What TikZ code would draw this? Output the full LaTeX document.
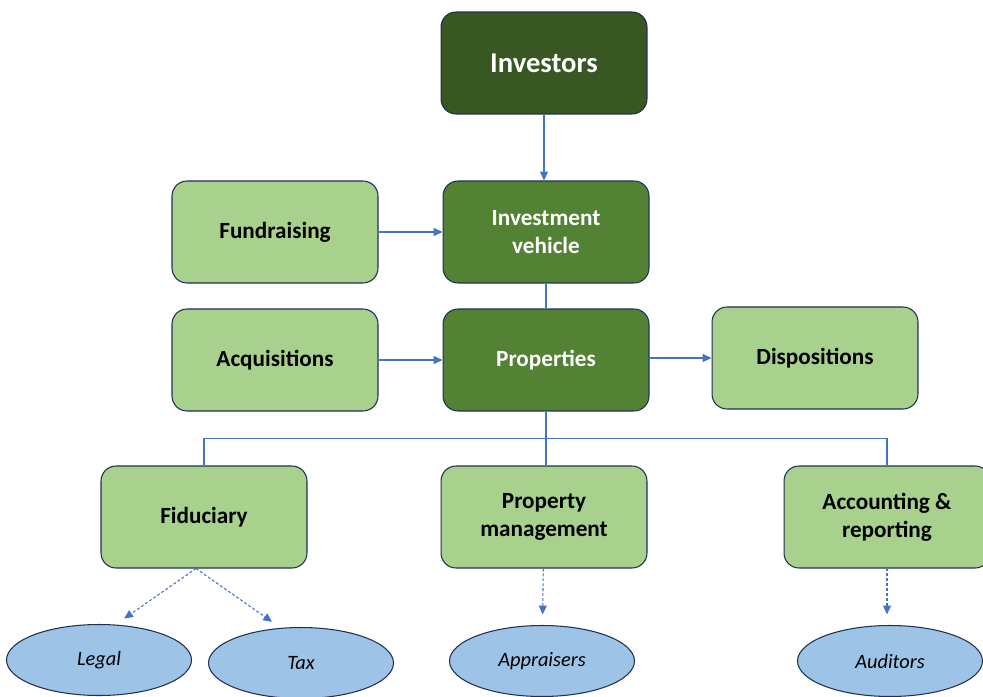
\documentclass[tikz,border=0pt]{standalone}
\usepackage{fontspec}
\setmainfont{Carlito}
\usetikzlibrary{arrows.meta,shapes.geometric}

\definecolor{topgreen}{HTML}{385723}
\definecolor{midgreen}{HTML}{548235}
\definecolor{lightgreen}{HTML}{A9D18E}
\definecolor{lightblue}{HTML}{9DC3E6}
\definecolor{boxline}{HTML}{1F3050}
\definecolor{linkblue}{HTML}{4472C4}

\begin{document}
\begin{tikzpicture}[x=0.02cm,y=-0.02cm,
		box/.style={draw=boxline,line width=0.6pt,rounded corners=0.3cm,
			minimum width=4.12cm,minimum height=2.04cm,align=center,
			font=\bfseries\fontsize{13.2}{15.9}\selectfont},
		light/.style={box,fill=lightgreen},
		dark/.style={box,fill=midgreen,text=white},
		party/.style={ellipse,draw=boxline,line width=0.6pt,fill=lightblue,
			minimum width=3.7cm,minimum height=1.42cm,inner sep=0pt,
			font=\itshape\fontsize{11.6}{14}\selectfont},
		link/.style={draw=linkblue,line width=0.6pt},
		flow/.style={link,-{Triangle[length=5pt,width=4.5pt]}},
		helper/.style={flow,dash pattern=on 1.6pt off 1.2pt,shorten >=6pt}]
		\useasboundingbox (0,0) rectangle (983,696);

		\node[box,fill=topgreen,text=white,font=\bfseries\fontsize{16.3}{19}\selectfont] (investors) at (544,63) {Investors};
		\node[dark] (vehicle) at (546,232) {Investment\\vehicle};
		\node[light] (fundraising) at (275,232) {Fundraising};
		\node[dark] (properties) at (546,360) {Properties};
		\node[light] (acquisitions) at (275,360) {Acquisitions};
		\node[light] (dispositions) at (815,358) {Dispositions};

		\node[light] (fiduciary) at (204,517) {Fiduciary};
		\node[light] (management) at (544,517) {Property\\management};
		\node[light] (accounting) at (887,517) {Accounting \&\\reporting};

		\node[party] (legal) at (99,660) {Legal};
		\node[party] (tax) at (301,663) {Tax};
		\node[party] (appraisers) at (542,661) {Appraisers};
		\node[party] (auditors) at (890,661) {Auditors};

		\draw[flow] (investors) -- (investors |- vehicle.north);
		\draw[flow] (fundraising) -- (vehicle);
		\draw[link] (vehicle) -- (vehicle |- properties.north);
		\draw[flow] (acquisitions) -- (properties);
		\draw[flow] (properties.east |- dispositions) -- (dispositions);

		\draw[link] (properties.south) -- ++(0,27) coordinate (fork);
		\draw[link] (fork) -| (fiduciary.north);
		\draw[link] (fork) -| (accounting.north);
		\draw[link] (fork) -- (fork |- management.north);

		\draw[helper] ([xshift=-8*0.02cm]fiduciary.south) -- (legal.65);
		\draw[helper] ([xshift=-8*0.02cm]fiduciary.south) -- (tax.120);
		\draw[helper] (management) -- (appraisers);
		\draw[helper] (accounting) -- (accounting |- auditors.north);
	\end{tikzpicture}
\end{document}
